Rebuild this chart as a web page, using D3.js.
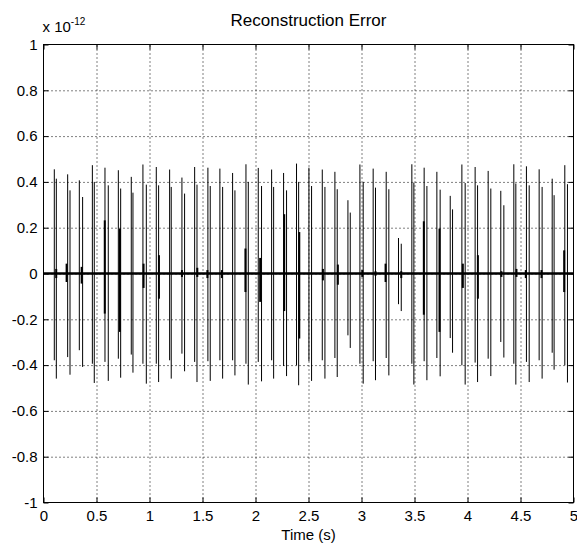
<!DOCTYPE html>
<html lang='en'>
    <head>
        <script src="https://d3js.org/d3.v7.min.js"></script>
        <style>
            body{
                margin:0px;
                padding:0px;
                background-color:white;
            }
            svg{
                display:block;
                font-family:"Liberation Sans", Arial, sans-serif;
            }
            .grid line{
                stroke:#000;
                stroke-dasharray:1,3;
            }
            .grid path{
                display:none;
            }
            .axis path{
                display:none;
            }
            .axis line{
                stroke:#000;
            }
            .axis text{
                font-size:15px;
                fill:#000;
            }
        </style>
    </head>
    <body>
        <svg id="chart" width="577" height="546"></svg>
        <script>
            // main pulse pairs: time (s), top and bottom of each spike (x 1e-12)
            const pulseT=[0.102,0.121,0.228,0.250,0.338,0.369,0.461,0.479,0.580,0.611,
                          0.706,0.728,0.828,0.844,0.938,0.970,1.064,1.086,1.190,1.205,
                          1.306,1.331,1.426,1.448,1.551,1.573,1.664,1.690,1.784,1.806,
                          1.910,1.932,2.026,2.057,2.152,2.171,2.265,2.293,2.387,2.407,
                          2.504,2.529,2.630,2.655,2.749,2.771,2.872,2.894,2.985,3.016,
                          3.110,3.132,3.233,3.258,3.349,3.375,3.475,3.494,3.591,3.617,
                          3.711,3.742,3.837,3.859,3.947,3.978,4.072,4.095,4.195,4.220,
                          4.314,4.343,4.437,4.456,4.556,4.582,4.676,4.704,4.799,4.817,
                          4.918,4.943];
            const pulseHi=[0.455,0.414,0.433,0.363,0.407,0.334,0.473,0.400,0.462,0.385,
                           0.451,0.371,0.422,0.353,0.476,0.388,0.465,0.385,0.454,0.378,
                           0.419,0.349,0.465,0.388,0.462,0.382,0.458,0.378,0.439,0.363,
                           0.477,0.400,0.461,0.382,0.454,0.378,0.439,0.363,0.480,0.400,
                           0.462,0.382,0.454,0.378,0.444,0.368,0.320,0.266,0.476,0.400,
                           0.458,0.375,0.444,0.368,0.155,0.130,0.477,0.397,0.462,0.382,
                           0.444,0.366,0.339,0.280,0.476,0.395,0.465,0.385,0.448,0.371,
                           0.361,0.298,0.477,0.393,0.468,0.385,0.455,0.378,0.414,0.342,
                           0.473,0.390];
            const pulseLo=[-0.379,-0.459,-0.365,-0.442,-0.335,-0.408,-0.394,-0.478,-0.386,-0.469,
                           -0.372,-0.455,-0.354,-0.433,-0.394,-0.481,-0.394,-0.474,-0.379,-0.459,
                           -0.350,-0.427,-0.386,-0.474,-0.383,-0.469,-0.379,-0.459,-0.379,-0.445,
                           -0.394,-0.485,-0.386,-0.471,-0.379,-0.459,-0.404,-0.448,-0.401,-0.488,
                           -0.383,-0.469,-0.379,-0.459,-0.369,-0.452,-0.270,-0.325,-0.394,-0.481,
                           -0.383,-0.466,-0.369,-0.445,-0.134,-0.164,-0.394,-0.485,-0.383,-0.466,
                           -0.369,-0.449,-0.282,-0.346,-0.401,-0.485,-0.389,-0.474,-0.372,-0.448,
                           -0.299,-0.367,-0.394,-0.485,-0.386,-0.474,-0.379,-0.459,-0.346,-0.420,
                           -0.401,-0.476];
            // smaller residual spikes sitting inside the pulses
            const residT=[0.120,0.218,0.360,0.578,0.721,0.944,1.089,1.306,1.451,1.546,
                          1.683,1.905,2.044,2.271,2.413,2.636,2.777,3.007,3.132,3.227,
                          3.375,3.588,3.736,3.956,4.098,4.320,4.462,4.550,4.698,4.912];
            const residHi=[0.020,0.043,0.029,0.232,0.196,0.043,0.080,0.015,0.025,0.015,
                           0.015,0.109,0.068,0.259,0.181,0.020,0.039,0.015,0.010,0.043,
                           0.010,0.228,0.196,0.043,0.080,0.010,0.020,0.015,0.015,0.101];
            const residLo=[-0.020,-0.037,-0.044,-0.175,-0.255,-0.063,-0.110,-0.015,-0.015,-0.020,
                           -0.020,-0.081,-0.124,-0.164,-0.284,-0.030,-0.049,-0.015,-0.010,-0.037,
                           -0.020,-0.180,-0.255,-0.063,-0.110,-0.015,-0.015,-0.020,-0.020,-0.081];

            const xTicks=[0,0.5,1,1.5,2,2.5,3,3.5,4,4.5,5];
            const yTicks=[-1,-0.8,-0.6,-0.4,-0.2,0,0.2,0.4,0.6,0.8,1];

            const padLeft=43.5, padRight=573.5, padTop=44.5, padBottom=502.5;

            const xScale=d3.scaleLinear().domain([0,5]).range([padLeft,padRight]);
            const yScale=d3.scaleLinear().domain([-1,1]).range([padBottom,padTop]);
            const fmt=d=>String(+d.toFixed(1));

            const svg=d3.select('#chart');

            // dotted grid
            svg.append('g')
               .attr('class','grid')
               .attr('transform','translate(0,'+padBottom+')')
               .call(d3.axisBottom(xScale).tickValues(xTicks.slice(1,-1)).tickSize(-(padBottom-padTop)).tickFormat(''));
            svg.append('g')
               .attr('class','grid')
               .attr('transform','translate('+padLeft+',0)')
               .call(d3.axisLeft(yScale).tickValues(yTicks.slice(1,-1)).tickSize(-(padRight-padLeft)).tickFormat(''));

            // zero line of the error signal
            svg.append('line')
               .attr('x1',xScale(0)).attr('x2',xScale(5))
               .attr('y1',yScale(0)).attr('y2',yScale(0))
               .attr('stroke','#000').attr('stroke-width',2.5);

            svg.append('g').selectAll('line')
               .data(pulseT)
               .enter()
               .append('line')
               .attr('x1',d=>xScale(d)).attr('x2',d=>xScale(d))
               .attr('y1',(d,i)=>yScale(pulseHi[i]))
               .attr('y2',(d,i)=>yScale(pulseLo[i]))
               .attr('stroke','#000').attr('stroke-width',1);

            svg.append('g').selectAll('line')
               .data(residT)
               .enter()
               .append('line')
               .attr('x1',d=>xScale(d)).attr('x2',d=>xScale(d))
               .attr('y1',(d,i)=>yScale(residHi[i]))
               .attr('y2',(d,i)=>yScale(residLo[i]))
               .attr('stroke','#000').attr('stroke-width',2);

            // axes with inward ticks
            svg.append('g')
               .attr('class','axis')
               .attr('transform','translate(0,'+padBottom+')')
               .call(d3.axisBottom(xScale).tickValues(xTicks).tickSize(-5).tickPadding(8).tickFormat(fmt));
            svg.append('g')
               .attr('class','axis')
               .attr('transform','translate(0,'+padTop+')')
               .call(d3.axisTop(xScale).tickValues(xTicks).tickSize(-5).tickFormat(''));
            svg.append('g')
               .attr('class','axis')
               .attr('transform','translate('+padLeft+',0)')
               .call(d3.axisLeft(yScale).tickValues(yTicks).tickSize(-5).tickPadding(6).tickFormat(fmt));
            svg.append('g')
               .attr('class','axis')
               .attr('transform','translate('+padRight+',0)')
               .call(d3.axisRight(yScale).tickValues(yTicks).tickSize(-5).tickFormat(''));

            svg.append('rect')
               .attr('x',padLeft).attr('y',padTop)
               .attr('width',padRight-padLeft).attr('height',padBottom-padTop)
               .attr('fill','none').attr('stroke','#000');

            svg.append('text')
               .attr('x',(padLeft+padRight)/2).attr('y',26)
               .attr('text-anchor','middle')
               .style('font-size','17px')
               .text('Reconstruction Error');

            svg.append('text')
               .attr('x',(padLeft+padRight)/2).attr('y',540)
               .attr('text-anchor','middle')
               .style('font-size','15px')
               .text('Time (s)');

            const expo=svg.append('text')
               .attr('x',padLeft-1).attr('y',32)
               .style('font-size','15px');
            expo.append('tspan').text('x 10');
            expo.append('tspan').attr('dy',-7).style('font-size','10px').text('-12');
        </script>
    </body>
</html>
